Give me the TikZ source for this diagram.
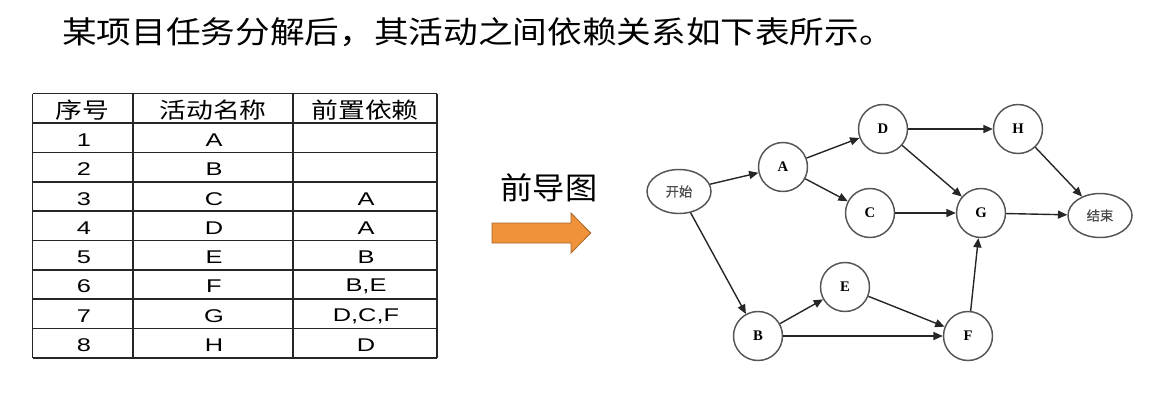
\documentclass[tikz,border=0pt]{standalone}
\usepackage{fontspec}
\setmainfont{Liberation Sans}
\newfontfamily\titlefont[FakeStretch=1.13]{Noto Sans CJK SC}
\newfontfamily\lblfont[FakeStretch=1.05]{Noto Sans CJK SC}
\newfontfamily\tabcjk[FakeStretch=1.22]{Noto Sans CJK SC}
\newfontfamily\tablat[FakeStretch=1.38]{Liberation Sans}
\newfontfamily\nodeserif{Liberation Serif}
\newfontfamily\nodecjk[FakeBold=0.6]{Noto Sans CJK SC}
\usetikzlibrary{arrows.meta,shapes.geometric}
\definecolor{arroworange}{HTML}{EF9239}
\definecolor{arrowedge}{HTML}{A8652A}
\definecolor{nodeline}{HTML}{555555}
\tikzset{
  tabline/.style={line width=1.3pt,draw=black!85},
  tabhead/.style={inner sep=0pt,font=\tabcjk\fontsize{16.5pt}{18pt}\selectfont},
  tabcell/.style={inner sep=0pt,font=\tablat\fontsize{13.8pt}{15pt}\selectfont},
  act/.style={circle,draw=nodeline,line width=1.1pt,minimum size=36.75pt,inner sep=0pt,
    font=\nodeserif\bfseries\fontsize{11pt}{12pt}\selectfont},
  term/.style={ellipse,draw=nodeline,line width=1.1pt,minimum width=48pt,minimum height=33pt,inner sep=0pt,
    font=\nodecjk\fontsize{10pt}{12pt}\selectfont,text=black!70},
  edge/.style={line width=1.05pt,draw=black!85,-{Triangle[length=7pt,width=6pt]}},
}
\begin{document}
\begin{tikzpicture}[x=0.75pt,y=-0.75pt]
\useasboundingbox (0,0) rectangle (1167,415);
% title
\node[anchor=west,inner sep=0pt,font=\titlefont\fontsize{23pt}{26pt}\selectfont] (title) at (62,32)
  {某项目任务分解后，其活动之间依赖关系如下表所示。};
% table grid
\foreach \x in {32.5,133,293,437} \draw[tabline] (\x,93.5) -- (\x,357.7);
\draw[tabline] (32.5,93.5) -- (437,93.5);
\foreach \k in {0,...,8} \draw[tabline] (32.5,123.3+29.3*\k) -- (437,123.3+29.3*\k);
% header
\node[tabhead] (h1) at (82.75,110) {序号};
\node[tabhead] (h2) at (213,110) {活动名称};
\node[tabhead] (h3) at (365,110) {前置依赖};
% rows
\foreach \n/\a/\p [count=\k] in {1/A/,2/B/,3/C/A,4/D/A,5/E/B,6/F/{B,E},7/G/{D,C,F},8/H/D}{
  \node[tabcell] (r\k n) at (84,123.3+29.3*\k-12.5) {\n};
  \node[tabcell] (r\k a) at (214,123.3+29.3*\k-12.5) {\a};
  \node[tabcell] (r\k p) at (366,123.3+29.3*\k-12.5) {\p};
}
% middle label and arrow
\node[inner sep=0pt,font=\lblfont\fontsize{23pt}{26pt}\selectfont] (lbl) at (549,188) {前导图};
\fill[arroworange,draw=arrowedge,line width=0.6pt]
  (492,223) -- (571,223) -- (571,213) -- (590.7,233) -- (571,253) -- (571,243) -- (492,243) -- cycle;
% graph
\node[term] (start) at (679,191.5) {开始};
\node[term] (end) at (1100,215.5) {结束};
\node[act] (A) at (783,167) {A};
\node[act] (D) at (883,129) {D};
\node[act] (H) at (1018,129) {H};
\node[act] (C) at (870,213) {C};
\node[act] (G) at (981,213) {G};
\node[act] (E) at (845,287) {E};
\node[act] (B) at (758,336) {B};
\node[act] (F) at (968,336) {F};
\draw[edge] (start) -- (A);
\draw[edge] (start) -- (B);
\draw[edge] (A) -- (D);
\draw[edge] (A) -- (C);
\draw[edge] (D) -- (H);
\draw[edge] (D) -- (G);
\draw[edge] (C) -- (G);
\draw[edge] (H) -- (end);
\draw[edge] (G) -- (end);
\draw[edge] (B) -- (E);
\draw[edge] (B) -- (F);
\draw[edge] (E) -- (F);
\draw[edge] (F) -- (G);
\end{tikzpicture}
\end{document}
